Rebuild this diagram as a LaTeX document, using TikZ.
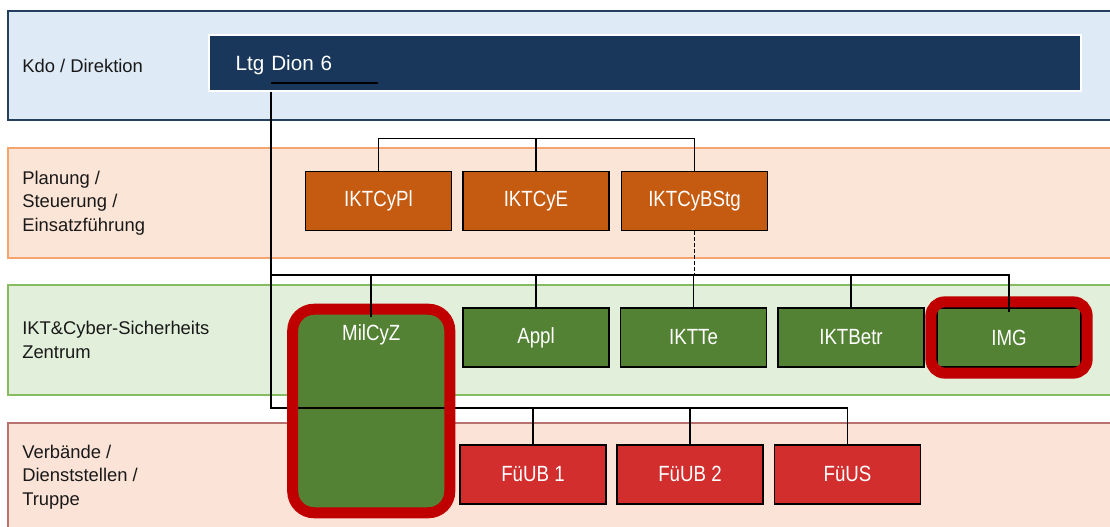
\documentclass[tikz,border=0pt]{standalone}
\usepackage{fontspec}
\setmainfont{Liberation Sans}
\newfontfamily\boxfont{Liberation Sans}[FakeStretch=0.85]
\usetikzlibrary{fit}
\definecolor{kdofill}{HTML}{DEEAF6}
\definecolor{kdoline}{HTML}{24405F}
\definecolor{ltgfill}{HTML}{18375B}
\definecolor{planfill}{HTML}{FBE5D6}
\definecolor{planline}{HTML}{F4A46E}
\definecolor{iktfill}{HTML}{E2EFDA}
\definecolor{iktline}{HTML}{86BB60}
\definecolor{verbfill}{HTML}{FBE4D7}
\definecolor{verbline}{HTML}{B7716F}
\definecolor{cyorange}{HTML}{C55A11}
\definecolor{cygreen}{HTML}{548235}
\definecolor{cyred}{HTML}{D22E2E}
\definecolor{ringred}{HTML}{C00000}
\begin{document}
\begin{tikzpicture}[x=0.75pt,y=-0.75pt,
 band/.style={line width=1pt},
 bandtext/.style={anchor=west,align=left,inner sep=0pt,text=black!90,font=\fontsize{13.8}{17.6}\selectfont},
 ltgbox/.style={fill=ltgfill,draw=white,line width=0.8pt,minimum height=42pt,text width=614pt,align=left,inner xsep=20pt,text depth=0pt,text=white,font=\fontsize{15.5}{18}\selectfont},
 unit/.style={draw=black,line width=1pt,minimum width=109.5pt,minimum height=44.25pt,inner sep=0pt,text=white,font=\boxfont\fontsize{16.5}{18}\selectfont},
 plan/.style={unit,fill=cyorange},
 ikt/.style={unit,fill=cygreen},
 verb/.style={unit,fill=cyred},
 milbox/.style={fill=cygreen,rounded corners=16pt,anchor=base,inner sep=0pt,minimum width=117.4pt,text height=23.4pt,text depth=128.85pt,text=white,font=\boxfont\fontsize{16.5}{18}\selectfont},
 redring/.style={draw=ringred,line width=8.25pt,inner sep=0pt},
 wire/.style={line width=1.35pt}]
\useasboundingbox (0,0) rectangle (1110,527);
\clip (0,0) rectangle (1110,527);

% bands
\draw[band,draw=kdoline,fill=kdofill] (8,11) rectangle (1125,120);
\node[bandtext] (kdo) at (22,65.5) {Kdo / Direktion};
\draw[band,draw=planline,fill=planfill] (8,148) rectangle (1125,258);
\node[bandtext] (planung) at (22,203) {Planung /\\Steuerung /\\Einsatzführung};
\draw[band,draw=iktline,fill=iktfill] (8,285) rectangle (1125,395);
\node[bandtext] (zentrum) at (22,340) {IKT\&Cyber-Sicherheits\\Zentrum};
\draw[band,draw=verbline,fill=verbfill] (8,423) rectangle (1125,545);
\node[bandtext] (truppe) at (22,477) {Verbände /\\Dienststellen /\\Truppe};

% units
\node[ltgbox] (ltg) at (645,63) {Ltg Dion 6};
\node[plan] (cypl) at (378.5,201) {IKTCyPl};
\node[plan] (cye) at (536,201) {IKTCyE};
\node[plan] (cybstg) at (694.5,201) {IKTCyBStg};
\node[milbox] (milcyz) at (371.25,340.7) {MilCyZ};
\node[ikt] (appl) at (536,337.5) {Appl};
\node[ikt] (iktte) at (693.5,337.5) {IKTTe};
\node[ikt] (iktbetr) at (851,337.5) {IKTBetr};
\node[ikt,minimum width=108pt] (img) at (1009,337.5) {IMG};
\node[verb] (fueb1) at (533,474.4) {FüUB 1};
\node[verb] (fueb2) at (690,474.4) {FüUB 2};
\node[verb] (fues) at (847.5,474.4) {FüUS};

\coordinate (trunk) at (271,82.7);
\coordinate (stub) at (377.5,82.7);
\coordinate (bus1) at (0,138.5);
\coordinate (bus2) at (0,274.7);
\coordinate (bus3) at (0,407.7);

% trunk down to the Verbaende, runs under the red ring
\draw[wire] (ltg.south -| trunk) -- (trunk |- bus3) -- (bus3 -| fues.north) -- (fues.north);
\foreach \n in {fueb1,fueb2}
 \draw[wire] (\n.north) -- (\n.north |- bus3);

\node[redring,rounded corners=16pt,fit=(milcyz)] (milring) {};
\node[redring,rounded corners=10.5pt,fit=(img),inner sep=4.1pt] (imgring) {};

\draw[wire] (trunk) -- (stub);
\draw[wire] (cypl.north) |- (bus1 -| cybstg.north) -- (cybstg.north);
\draw[wire] (cye.north) -- (cye.north |- bus1);
\draw[wire,dash pattern=on 3pt off 1.5pt] (cybstg.south) -- (cybstg.south |- bus2);
\draw[wire] (trunk |- bus2) -- (bus2 -| img.north) -- ([yshift=-3.5pt]img.north);
\foreach \n in {appl,iktte,iktbetr}
 \draw[wire] (\n.north) -- (\n.north |- bus2);
\draw[wire] ([yshift=-5.6pt]milcyz.north) -- (milcyz.north |- bus2);
\end{tikzpicture}
\end{document}
